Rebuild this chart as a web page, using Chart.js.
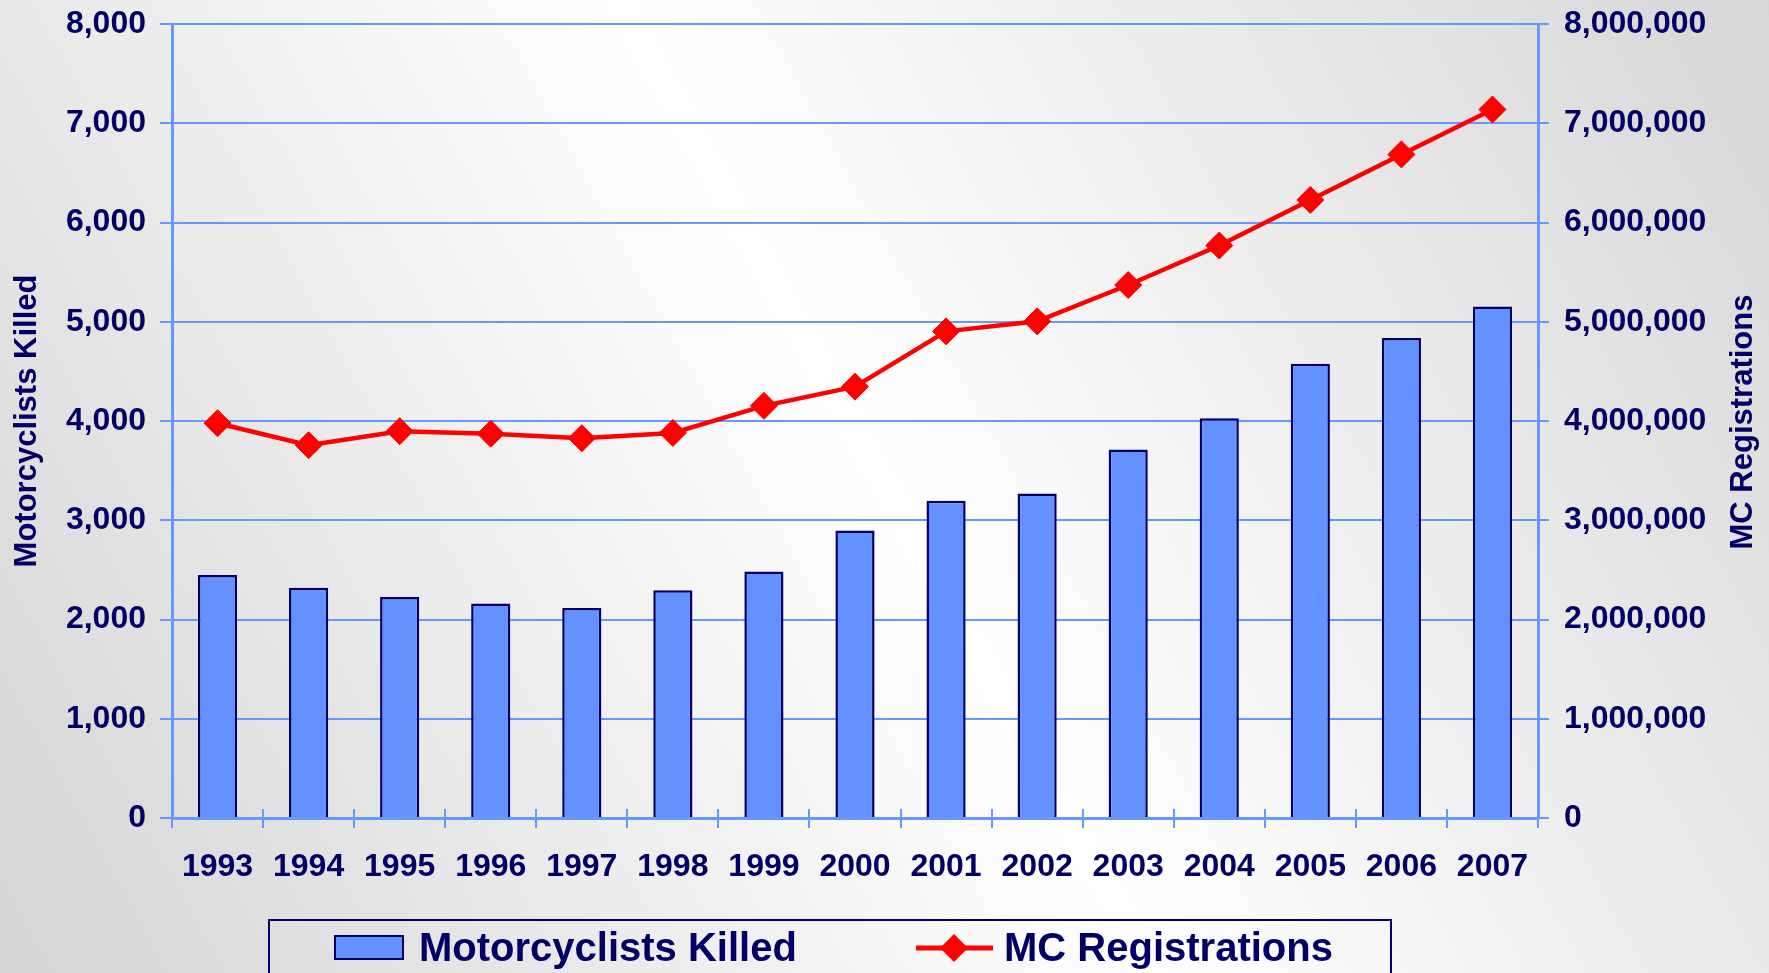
<!DOCTYPE html>
<html>
<head>
<meta charset="utf-8">
<script src="https://cdn.jsdelivr.net/npm/chart.js@4"></script>
<style>
  html, body { margin: 0; padding: 0; overflow: hidden; background: #fff; }
  canvas { display: block; }
</style>
</head>
<body>
<canvas id="main_chart" width="1769" height="973"></canvas>
<script>
// chart data
const years = ["1993", "1994", "1995", "1996", "1997", "1998", "1999", "2000",
               "2001", "2002", "2003", "2004", "2005", "2006", "2007"];
const killed = [2449, 2320, 2227, 2161, 2116, 2294, 2483, 2897, 3197, 3270, 3714, 4028, 4576, 4837, 5154];
const registrations = [3977856, 3756555, 3897191, 3871599, 3826373, 3879450, 4152433, 4346068,
                       4903056, 5004156, 5370035, 5767934, 6227146, 6686147, 7138476];
const killedLabel = "Motorcyclists Killed";
const regLabel = "MC Registrations";
const leftMax = 8000, leftStep = 1000;
const rightMax = 8000000, rightStep = 1000000;

const navy = "#000066";
const gridBlue = "#6699FF";
const barBlue = "#6391FF";
const font = "'Liberation Sans', Arial, sans-serif";

// page background, diagonal grey -> white -> grey
const bgPlugin = {
    id: "bg",
    beforeDraw(chart) {
        const c = chart.ctx;
        const g = c.createLinearGradient(chart.width, 0, 0, chart.height);
        g.addColorStop(0, "#d6d6d6");
        g.addColorStop(0.5, "#ffffff");
        g.addColorStop(1, "#d4d4d4");
        c.save();
        c.fillStyle = g;
        c.fillRect(0, 0, chart.width, chart.height);
        c.restore();
    }
};

// small x ticks that cross the axis line upward
const xTickPlugin = {
    id: "xticks",
    afterDatasetsDraw(chart) {
        const a = chart.chartArea, c = chart.ctx;
        const w = (a.right - a.left) / years.length;
        c.save();
        c.strokeStyle = gridBlue;
        c.lineWidth = 2;
        for (let i = 1; i < years.length; i++) {
            const px = Math.round(a.left + i * w);
            c.beginPath();
            c.moveTo(px, a.bottom - 9);
            c.lineTo(px, a.bottom);
            c.stroke();
        }
        c.restore();
    }
};

// axis titles, both read bottom to top
const titlePlugin = {
    id: "titles",
    afterDraw(chart) {
        const c = chart.ctx, a = chart.chartArea;
        const mid = (a.top + a.bottom) / 2;
        c.save();
        c.fillStyle = navy;
        c.font = "bold 31px " + font;
        c.textAlign = "center";
        c.textBaseline = "middle";
        c.translate(27, mid);
        c.rotate(-Math.PI / 2);
        c.fillText(killedLabel, 0, 0);
        c.restore();
        c.save();
        c.fillStyle = navy;
        c.font = "bold 31px " + font;
        c.textAlign = "center";
        c.textBaseline = "middle";
        c.translate(1743, mid + 1);
        c.rotate(-Math.PI / 2);
        c.fillText(regLabel, 0, 0);
        c.restore();
    }
};

// boxed legend under the chart
const legendPlugin = {
    id: "boxlegend",
    afterDraw(chart) {
        const c = chart.ctx;
        const ds = chart.data.datasets;
        c.save();
        c.strokeStyle = navy;
        c.lineWidth = 2;
        c.strokeRect(269, 920, 1122, 80);

        // bar swatch
        c.fillStyle = ds[1].backgroundColor;
        c.fillRect(335, 936, 68, 23);
        c.strokeRect(335, 936, 68, 23);

        c.fillStyle = navy;
        c.font = "bold 40px " + font;
        c.textAlign = "left";
        c.textBaseline = "alphabetic";
        c.fillText(ds[1].label, 419, 961);

        // line swatch with diamond
        c.strokeStyle = ds[0].borderColor;
        c.lineWidth = 5;
        c.beginPath();
        c.moveTo(916, 948);
        c.lineTo(993, 948);
        c.stroke();
        c.fillStyle = ds[0].borderColor;
        c.beginPath();
        c.moveTo(954, 934);
        c.lineTo(968, 948);
        c.lineTo(954, 962);
        c.lineTo(940, 948);
        c.closePath();
        c.fill();

        c.fillStyle = navy;
        c.fillText(ds[0].label, 1004, 961);
        c.restore();
    }
};

const tickFont = { family: font, size: 32, weight: "bold" };

let chart1 = new Chart(document.getElementById("main_chart"), {
    type: "bar",
    data: {
        labels: years,
        datasets: [
            {
                type: "line",
                label: regLabel,
                data: registrations,
                yAxisID: "y2",
                borderColor: "#FF0000",
                backgroundColor: "#FF0000",
                borderWidth: 4.5,
                pointStyle: "rectRot",
                pointRadius: 13.5,
                pointBorderWidth: 1,
                pointBackgroundColor: "#FF0000",
                pointBorderColor: "#FF0000",
                tension: 0,
                order: 0
            },
            {
                type: "bar",
                label: killedLabel,
                data: killed,
                yAxisID: "y",
                backgroundColor: barBlue,
                borderColor: navy,
                borderWidth: 2.5,
                borderSkipped: "bottom",
                categoryPercentage: 1,
                barPercentage: 0.43,
                order: 1
            }
        ]
    },
    options: {
        responsive: false,
        animation: false,
        devicePixelRatio: 1,
        layout: { padding: { top: 24, left: 0, right: 0, bottom: 0 } },
        plugins: {
            legend: { display: false },
            tooltip: { enabled: false }
        },
        scales: {
            x: {
                offset: true,
                grid: { offset: true, drawOnChartArea: false, color: gridBlue, lineWidth: 2, tickLength: 10 },
                border: { color: gridBlue, width: 3 },
                ticks: { color: navy, font: tickFont, padding: 20, maxRotation: 0 },
                afterFit(scale) {
                    scale.height = 155;
                    scale.paddingLeft = 0;
                    scale.paddingRight = 0;
                }
            },
            y: {
                position: "left",
                min: 0,
                max: leftMax,
                grid: { color: gridBlue, lineWidth: 2, tickLength: 12 },
                border: { color: gridBlue, width: 3 },
                ticks: {
                    stepSize: leftStep,
                    color: navy,
                    font: tickFont,
                    padding: 14,
                    callback: (v) => v.toLocaleString("en-US")
                },
                afterFit(scale) {
                    scale.width = 172;
                    scale.paddingTop = 0;
                    scale.paddingBottom = 0;
                }
            },
            y2: {
                position: "right",
                min: 0,
                max: rightMax,
                grid: { drawOnChartArea: false, color: gridBlue, lineWidth: 2, tickLength: 11 },
                border: { color: gridBlue, width: 3 },
                ticks: {
                    stepSize: rightStep,
                    color: navy,
                    font: tickFont,
                    padding: 15,
                    callback: (v) => v.toLocaleString("en-US")
                },
                afterFit(scale) {
                    scale.width = 231;
                    scale.paddingTop = 0;
                    scale.paddingBottom = 0;
                }
            }
        }
    },
    plugins: [bgPlugin, xTickPlugin, titlePlugin, legendPlugin]
});
</script>
</body>
</html>
